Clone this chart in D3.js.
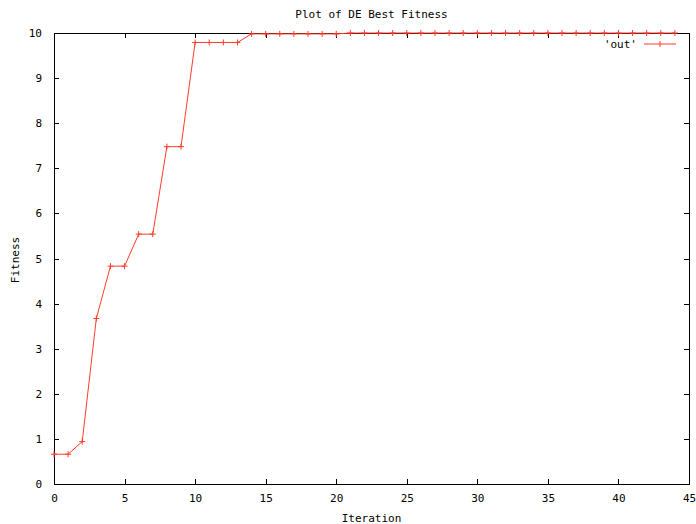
<!DOCTYPE html>
<html><head><meta charset="utf-8">
<script src="https://cdn.jsdelivr.net/npm/d3@7"></script>
<style>body{margin:0;background:#fff}svg text{font-family:"DejaVu Sans Mono",monospace;font-size:11px;fill:#000}</style>
</head><body><svg id="c" width="696" height="524"></svg>
<script>
const iterations = d3.range(0, 45);
const fitness = [0.66,0.66,0.94,3.67,4.83,4.83,5.54,5.54,7.48,7.48,
  9.79,9.79,9.79,9.79,9.98,9.98,9.98,9.98,9.98,9.98,9.98,
  10,10,10,10,10,10,10,10,10,10,10,10,10,10,10,10,10,10,10,10,10,10,10,10];
const xTicks = [0,5,10,15,20,25,30,35,40,45];
const yTicks = [0,1,2,3,4,5,6,7,8,9,10];
const data = iterations.map((x,i)=>({x, y: fitness[i]}));
const color = "#ff3c28";

const svg = d3.select("#c");
const L=54, R=689, T=33, B=484;
const x = d3.scaleLinear().domain([0,45]).range([L,R]);
const y = d3.scaleLinear().domain([0,10]).range([B,T]);

svg.append("rect").attr("x",L).attr("y",T).attr("width",R-L).attr("height",B-T)
  .attr("fill","none").attr("stroke","#000").attr("stroke-width",1).attr("shape-rendering","crispEdges");

const gx = svg.append("g").attr("transform",`translate(0,${B})`)
  .call(d3.axisBottom(x).tickValues(xTicks).tickSize(-5).tickPadding(10).tickFormat(d3.format("d")));
const gxt = svg.append("g").attr("transform",`translate(0,${T})`)
  .call(d3.axisTop(x).tickValues(xTicks).tickSize(-5).tickFormat(""));
const gy = svg.append("g").attr("transform",`translate(${L},0)`)
  .call(d3.axisLeft(y).tickValues(yTicks).tickSize(-5).tickPadding(12).tickFormat(d3.format("d")));
const gyr = svg.append("g").attr("transform",`translate(${R},0)`)
  .call(d3.axisRight(y).tickValues(yTicks).tickSize(-5).tickFormat(""));
[gx,gxt,gy,gyr].forEach(g=>{
  g.select(".domain").remove();
  g.selectAll("line").attr("stroke","#000").attr("shape-rendering","crispEdges");
  g.selectAll("text").attr("font-family","DejaVu Sans Mono").attr("font-size",11).attr("fill","#000");
});
gx.selectAll("text").attr("dy","0.71em");

svg.append("path").datum(data)
  .attr("fill","none").attr("stroke",color).attr("stroke-width",1)
  .attr("d", d3.line().x(d=>x(d.x)).y(d=>y(d.y)));
const mk = svg.append("g").attr("stroke",color).attr("stroke-width",1);
data.forEach(d=>{
  const cx=x(d.x), cy=y(d.y);
  mk.append("line").attr("x1",cx-3).attr("x2",cx+3).attr("y1",cy).attr("y2",cy);
  mk.append("line").attr("x1",cx).attr("x2",cx).attr("y1",cy-3).attr("y2",cy+3);
});

svg.append("text").attr("x",(L+R)/2).attr("y",18).attr("text-anchor","middle").text("Plot of DE Best Fitness");
svg.append("text").attr("x",(L+R)/2).attr("y",522).attr("text-anchor","middle").text("Iteration");
svg.append("text").attr("transform","translate(19,260) rotate(-90)").attr("text-anchor","middle").text("Fitness");

svg.append("text").attr("x",637).attr("y",48).attr("text-anchor","end").text("'out'");
svg.append("line").attr("x1",644).attr("x2",676).attr("y1",44).attr("y2",44).attr("stroke",color);
svg.append("line").attr("x1",660).attr("x2",660).attr("y1",41).attr("y2",47).attr("stroke",color);
</script></body></html>
